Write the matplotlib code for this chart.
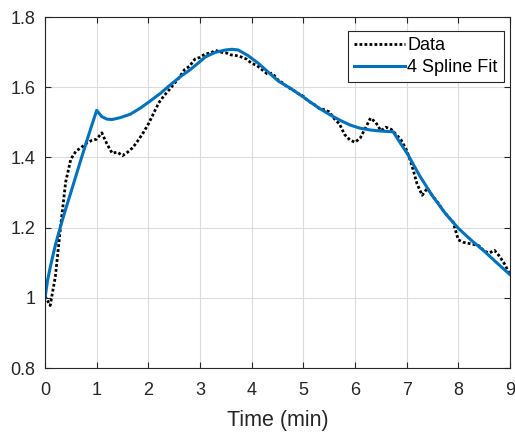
import matplotlib
matplotlib.use("Agg")
import matplotlib.pyplot as plt
import numpy as np

plt.rcParams['font.family'] = ['Liberation Sans', 'DejaVu Sans']

# Measured data (time in min, value)
data_t = [0.0, 0.1, 0.2, 0.3, 0.4, 0.5, 0.6, 0.7, 0.8, 0.9,
          1.0, 1.1, 1.2, 1.3, 1.4, 1.5, 1.6, 1.7, 1.8, 1.9,
          2.0, 2.1, 2.2, 2.3, 2.4, 2.5, 2.6, 2.7, 2.8, 2.9,
          3.0, 3.1, 3.2, 3.3, 3.4, 3.5, 3.6, 3.7, 3.8, 3.9,
          4.0, 4.1, 4.2, 4.3, 4.4, 4.5, 4.6, 4.7, 4.8, 4.9,
          5.0, 5.1, 5.2, 5.3, 5.4, 5.5, 5.6, 5.7, 5.8, 5.9,
          6.0, 6.1, 6.2, 6.3, 6.4, 6.5, 6.6, 6.7, 6.8, 6.9,
          7.0, 7.1, 7.2, 7.3, 7.4, 7.5, 7.6, 7.7, 7.8, 7.9,
          8.0, 8.1, 8.2, 8.3, 8.4, 8.5, 8.6, 8.7, 8.8, 8.9, 9.0]
data_y = [1.005, 0.978, 1.060, 1.200, 1.330, 1.395, 1.418, 1.428, 1.440, 1.448,
          1.452, 1.470, 1.438, 1.412, 1.415, 1.405, 1.415, 1.428, 1.448, 1.470,
          1.495, 1.525, 1.555, 1.575, 1.592, 1.610, 1.628, 1.650, 1.660, 1.680,
          1.685, 1.695, 1.697, 1.705, 1.700, 1.698, 1.692, 1.690, 1.686, 1.680,
          1.668, 1.662, 1.650, 1.638, 1.640, 1.622, 1.612, 1.600, 1.592, 1.582,
          1.574, 1.560, 1.552, 1.540, 1.536, 1.530, 1.510, 1.495, 1.465, 1.450,
          1.443, 1.455, 1.483, 1.512, 1.500, 1.476, 1.486, 1.480, 1.465, 1.448,
          1.420, 1.378, 1.325, 1.292, 1.312, 1.290, 1.272, 1.250, 1.232, 1.215,
          1.165, 1.158, 1.155, 1.152, 1.148, 1.133, 1.128, 1.135, 1.118, 1.095, 1.065]

# 4-spline fit curve
fit_t = [0.0, 0.05, 0.1, 0.2, 0.3, 0.4, 0.5, 0.6, 0.7, 0.8, 0.9, 1.0,
         1.1, 1.2, 1.3, 1.45, 1.65, 1.84, 2.03, 2.23, 2.42, 2.62, 2.81,
         3.0, 3.1, 3.29, 3.49, 3.62, 3.74, 3.93, 4.13, 4.32, 4.52, 4.75,
         5.0, 5.14, 5.33, 5.52, 5.72, 5.91, 6.1, 6.3, 6.5, 6.74,
         6.85, 7.02, 7.25, 7.5, 7.75, 8.0, 8.25, 8.5, 8.75, 9.0]
fit_y = [1.000, 1.050, 1.086, 1.150, 1.203, 1.253, 1.300, 1.348, 1.396, 1.443, 1.489, 1.534,
         1.516, 1.509, 1.508, 1.513, 1.523, 1.540, 1.560, 1.582, 1.606, 1.630, 1.650,
         1.673, 1.686, 1.699, 1.706, 1.708, 1.706, 1.690, 1.668, 1.643, 1.617, 1.597,
         1.572, 1.557, 1.538, 1.521, 1.505, 1.492, 1.483, 1.478, 1.475, 1.473,
         1.447, 1.409, 1.348, 1.290, 1.240, 1.198, 1.164, 1.133, 1.099, 1.066]

x_ticks = [0, 1, 2, 3, 4, 5, 6, 7, 8, 9]
y_ticks = [0.8, 1.0, 1.2, 1.4, 1.6, 1.8]
y_tick_labels = ['0.8', '1', '1.2', '1.4', '1.6', '1.8']

fig = plt.figure(figsize=(5.15, 4.36), dpi=100)
ax = fig.add_axes([45/515, 68/436, 465/515, 351/436])

ax.plot(data_t, data_y, color='black', linestyle=(0, (1, 0.8)), lw=2.0, label='Data')
ax.plot(fit_t, fit_y, color='#0072BD', lw=2.2, label='4 Spline Fit')

ax.set_xlim(0, 9)
ax.set_ylim(0.8, 1.8)
ax.set_xticks(x_ticks)
ax.set_yticks(y_ticks)
ax.set_yticklabels(y_tick_labels)
ax.grid(True, color='#dcdcdc', lw=0.8)
ax.set_axisbelow(True)
ax.tick_params(direction='in', top=True, right=True, length=4, width=0.8,
               colors='#262626', labelsize=13)
ax.tick_params(axis='x', pad=10)
ax.tick_params(axis='y', pad=7)
for s in ax.spines.values():
    s.set_color('#262626')
    s.set_linewidth(0.8)
ax.set_xlabel('Time (min)', fontsize=15.5, color='#262626', labelpad=8)

leg = ax.legend(loc='upper right', bbox_to_anchor=(0.995, 0.97), fontsize=13,
                frameon=True, fancybox=False, framealpha=1, edgecolor='#262626',
                handlelength=2.8, handletextpad=0.15, borderpad=0.35, labelspacing=0.25,
                borderaxespad=0.2)
leg.get_frame().set_linewidth(0.8)

fig.savefig('out.png', dpi=100)
